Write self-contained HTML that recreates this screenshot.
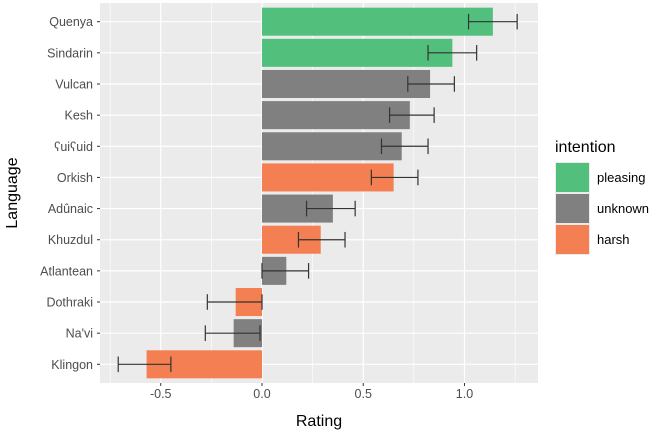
<!DOCTYPE html>
<html><head><meta charset="utf-8"><style>
body{margin:0;background:#fff;font-family:"Liberation Sans",sans-serif}
svg text{font-family:"Liberation Sans","DejaVu Sans",sans-serif}
</style></head><body>
<svg id="c" width="670" height="433" xmlns="http://www.w3.org/2000/svg"></svg>
<script>
const languages=["Quenya","Sindarin","Vulcan","Kesh","ʕuiʕuid","Orkish","Adûnaic","Khuzdul","Atlantean","Dothraki","Na'vi","Klingon"];
const ratings=[1.14,0.94,0.83,0.73,0.69,0.65,0.35,0.29,0.12,-0.13,-0.14,-0.57];
const errLow=[1.02,0.82,0.72,0.63,0.59,0.54,0.22,0.18,0.0,-0.27,-0.28,-0.71];
const errHigh=[1.26,1.06,0.95,0.85,0.82,0.77,0.46,0.41,0.23,0.0,-0.01,-0.45];
const intentions=["pleasing","pleasing","unknown","unknown","unknown","harsh","unknown","harsh","unknown","harsh","unknown","harsh"];
const xTicks=[-0.5,0,0.5,1.0];
const xTickLabels=["-0.5","0.0","0.5","1.0"];
const colors={pleasing:"#52bf7d",unknown:"#808080",harsh:"#f47f52"};
const NS="http://www.w3.org/2000/svg",svg=document.getElementById("c");
const L=100,R=538,T=3,B=383;
const x=v=>262+v*202.5;
const step=(B-T)/(languages.length+0.2);
const y=i=>T+step*0.6+i*step;
function mk(t,a,p){const e=document.createElementNS(NS,t);for(const k in a)e.setAttribute(k,a[k]);(p||svg).appendChild(e);return e;}
let e=mk("rect",{x:L,y:T,width:R-L,height:B-T,fill:"#ebebeb"});


for(let v=-0.75;v<=1.3;v+=0.25){const px=x(v);if(px<L||px>R)continue;const major=Math.abs(v*2-Math.round(v*2))<1e-6;
e=mk("line",{x1:px,x2:px,y1:T,y2:B,stroke:"#fff","stroke-width":major?1.2:0.6});

}
languages.forEach((l,i)=>{e=mk("line",{x1:L,x2:R,y1:y(i),y2:y(i),stroke:"#fff","stroke-width":1.2});

});
languages.forEach((l,i)=>{
const h=step*0.9,x0=x(Math.min(0,ratings[i])),x1=x(Math.max(0,ratings[i]));
e=mk("rect",{x:x0,y:y(i)-h/2,width:x1-x0,height:h,fill:colors[intentions[i]]});


const g=mk("g",{stroke:"#333","stroke-width":1.2});


const a=x(errLow[i]),b=x(errHigh[i]),c=y(i),w=step*0.25;
mk("line",{x1:a,x2:b,y1:c,y2:c},g);mk("line",{x1:a,x2:a,y1:c-w,y2:c+w},g);mk("line",{x1:b,x2:b,y1:c-w,y2:c+w},g);
e=mk("text",{x:L-7,y:y(i)+4.5,"text-anchor":"end","font-size":12.5,fill:"#4d4d4d"});e.textContent=l;


mk("line",{x1:L-3,x2:L,y1:y(i),y2:y(i),stroke:"#333"});
});
xTicks.forEach((v,i)=>{mk("line",{x1:x(v),x2:x(v),y1:B,y2:B+3,stroke:"#333"});
e=mk("text",{x:x(v),y:B+15,"text-anchor":"middle","font-size":12.5,fill:"#4d4d4d"});e.textContent=xTickLabels[i];

});
e=mk("text",{x:(L+R)/2,y:426,"text-anchor":"middle","font-size":16,fill:"#000"});e.textContent="Rating";


e=mk("text",{x:17,y:(T+B)/2,"text-anchor":"middle","font-size":16,fill:"#000",transform:`rotate(-90 17 ${(T+B)/2})`});e.textContent="Language";


const lg=mk("g",{});


e=mk("text",{x:555,y:152,"font-size":16,fill:"#000"},lg);e.textContent="intention";


["pleasing","unknown","harsh"].forEach((k,i)=>{const yy=162+i*31;
const g=mk("g",{},lg);


mk("rect",{x:555,y:yy,width:35,height:31,fill:"#ebebeb"},g);
mk("rect",{x:556,y:yy+1,width:33,height:29,fill:colors[k]},g);
const t=mk("text",{x:597,y:yy+20,"font-size":13,fill:"#000"},g);t.textContent=k;});
</script>
</body></html>
